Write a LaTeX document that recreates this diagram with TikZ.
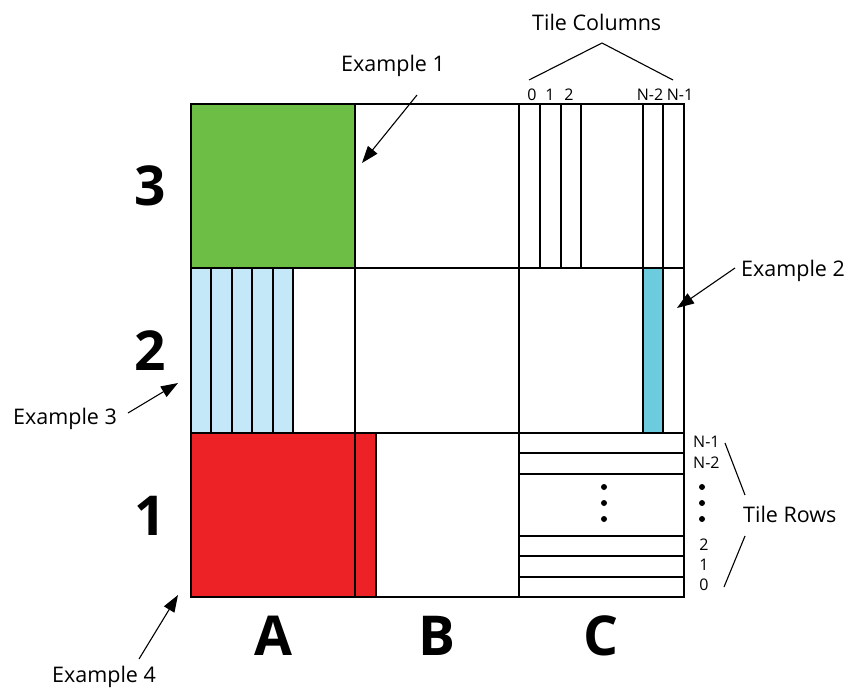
\documentclass[tikz,border=0pt]{standalone}
\usepackage{fontspec}
\setmainfont{Open Sans}
\usetikzlibrary{arrows.meta}
\definecolor{tgreen}{RGB}{109,190,69}
\definecolor{tred}{RGB}{236,34,39}
\definecolor{tlblue}{RGB}{197,232,249}
\definecolor{tcyan}{RGB}{108,204,222}
\begin{document}
\begin{tikzpicture}[x=1pt,y=-1pt,
  gridline/.style={draw=black,line width=1.6pt},
  tileline/.style={draw=black,line width=1.5pt},
  conn/.style={draw=black,line width=1.1pt},
  arr/.style={conn,-{Triangle[length=17pt,width=12pt]}},
  exlabel/.style={font=\fontsize{21.5}{25}\selectfont,inner sep=0pt},
  biglabel/.style={font=\fontsize{55}{60}\selectfont\bfseries,inner sep=0pt,anchor=base},
  smalllabel/.style={font=\fontsize{16}{19}\selectfont,inner sep=0pt}]
\useasboundingbox (0,0) rectangle (851,688);
% fills
\fill[tgreen] (191,104) rectangle (355,268);
\fill[tlblue] (191,268) rectangle (293,433);
\fill[tred] (191,433) rectangle (376,597);
\fill[tcyan] (643,268) rectangle (663,433);
% tile lines A2
\foreach \x in {211,232,252,273,293}
  \draw[tileline] (\x,268) -- (\x,433);
% tile line B1
\draw[tileline] (376,433) -- (376,597);
% tile columns C3
\foreach \x in {540,561,581}
  \draw[tileline] (\x,104) -- (\x,268);
\foreach \x in {643,663}
  \draw[tileline] (\x,104) -- (\x,433);
% tile rows C1
\foreach \y in {453,474,536,556,577}
  \draw[tileline] (519,\y) -- (684,\y);
% grid
\draw[gridline] (191,104) rectangle (684,597);
\draw[gridline] (355,104) -- (355,597);
\draw[gridline] (519,104) -- (519,597);
\draw[gridline] (191,268) -- (684,268);
\draw[gridline] (191,433) -- (684,433);
% dots
\foreach \y in {487,503,519} {
  \fill (604,\y) circle (3pt);
  \fill (702,\y) circle (3pt);
}
% big labels
\node[biglabel] (r3) at (150,205) {3};
\node[biglabel] (r2) at (150,370) {2};
\node[biglabel] (r1) at (150,535) {1};
\node[biglabel] (cA) at (273,655) {A};
\node[biglabel] (cB) at (437,655) {B};
\node[biglabel] (cC) at (601,655) {C};
% tile columns labels
\node[exlabel,anchor=base west] (tc) at (532,30) {Tile Columns};
\node[smalllabel,anchor=base] (c0) at (532,100) {0};
\node[smalllabel,anchor=base] (c1) at (550,100) {1};
\node[smalllabel,anchor=base] (c2) at (569,100) {2};
\node[smalllabel,anchor=base] (cn2) at (650,100) {N-2};
\node[smalllabel,anchor=base] (cn1) at (680,100) {N-1};
\coordinate (tcl) at (529,80);
\coordinate (tcm) at (602,43);
\coordinate (tcr) at (673,80);
\draw[conn] (tcl) -- (tcm) -- (tcr);
% tile rows labels
\node[exlabel,anchor=base west] (tr) at (743,522) {Tile Rows};
\node[smalllabel,anchor=base west] (rn1) at (693,447) {N-1};
\node[smalllabel,anchor=base west] (rn2) at (693,468) {N-2};
\node[smalllabel,anchor=base] (r2l) at (704,550) {2};
\node[smalllabel,anchor=base] (r1l) at (704,570) {1};
\node[smalllabel,anchor=base] (r0l) at (704,590) {0};
\coordinate (tra) at (725,443);
\coordinate (trb) at (745,495);
\coordinate (trc) at (745,536);
\coordinate (trd) at (724,587);
\draw[conn] (tra) -- (trb);
\draw[conn] (trc) -- (trd);
% examples
\node[exlabel,anchor=base west] (e1) at (341,71) {Example 1};
\node[exlabel,anchor=base west] (e2) at (741,276) {Example 2};
\node[exlabel,anchor=base west] (e3) at (13,424) {Example 3};
\node[exlabel,anchor=base west] (e4) at (52,682) {Example 4};
\coordinate (a1s) at (417,95);  \coordinate (a1e) at (362,163);
\coordinate (a2s) at (735,268); \coordinate (a2e) at (677,308);
\coordinate (a3s) at (128,413); \coordinate (a3e) at (178,383);
\coordinate (a4s) at (139,659); \coordinate (a4e) at (178,595);
\draw[arr] (a1s) -- (a1e);
\draw[arr] (a2s) -- (a2e);
\draw[arr] (a3s) -- (a3e);
\draw[arr] (a4s) -- (a4e);
\end{tikzpicture}
\end{document}
